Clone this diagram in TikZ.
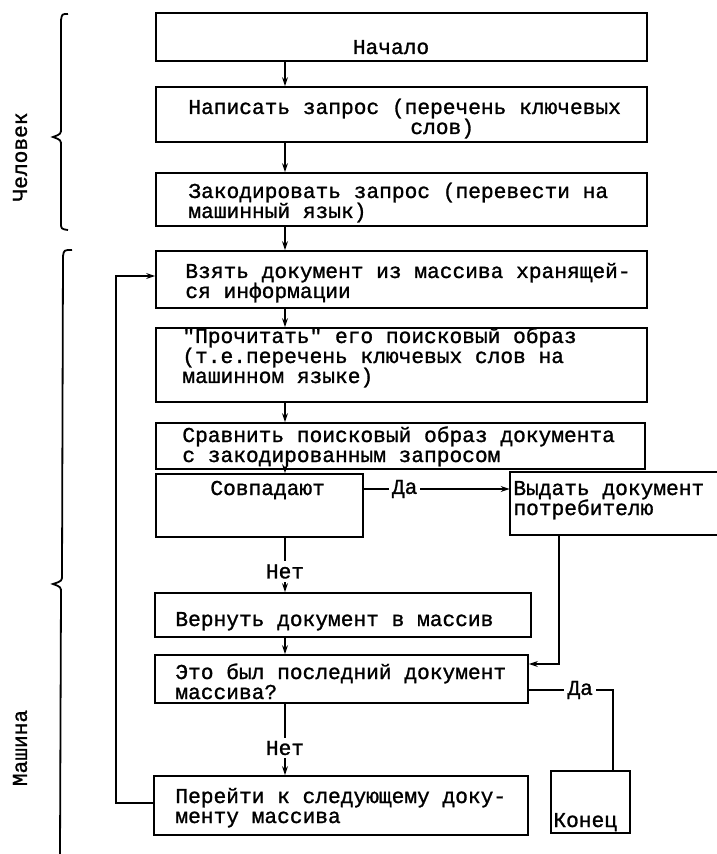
\documentclass[tikz,border=0pt]{standalone}
\usepackage{fontspec}
\newfontfamily\tw{Liberation Mono}[FakeBold=1.2]
\usetikzlibrary{arrows.meta,fit}
\begin{document}
\begin{tikzpicture}[x=0.5pt,y=-0.5pt,
  every node/.style={font=\tw\fontsize{10.6}{10}\selectfont},
  line/.style={line width=0.9pt, line join=miter},
  box/.style={draw, line width=0.9pt, inner sep=0pt},
  txt/.style={anchor=base west, inner sep=0pt},
  arr/.style={line, -{Stealth[length=4.5pt,width=3pt]}},
  lab/.style={fill=white, inner sep=1.5pt}]
\useasboundingbox (0,0) rectangle (716,854);
% boxes
\node[box, fit={(156,13)(647,61)}] (b1) {};
\node[box, fit={(156,87)(647,142)}] (b2) {};
\node[box, fit={(156,173)(647,226)}] (b3) {};
\node[box, fit={(156,251)(647,308)}] (b4) {};
\node[box, fit={(156,328)(647,402)}] (b5) {};
\node[box, fit={(156,423)(645,469)}] (b6) {};
\node[box, fit={(156,474)(363,537)}] (b7) {};
\node[box, fit={(155,593)(531,637)}] (b8) {};
\node[box, fit={(155,655)(528,703)}] (b9) {};
\node[box, fit={(154,776)(528,835)}] (b10) {};
\node[inner sep=0pt, fit={(510,472)(716,535)}] (bout) {};
\draw[line] (720,472) -- (510,472) -- (510,535) -- (720,535);
\node[box, fit={(551,771)(630,833)}] (bend) {};
% texts
\node[anchor=base, inner sep=0pt] (t1) at (391,54) {Начало};
\node[txt] (t2) at (188,114) {\vtop{\hbox{Написать запрос (перечень ключевых}\hbox{\hspace*{111pt}слов)}}};
\node[txt] (t3) at (188,198) {\vtop{\hbox{Закодировать запрос (перевести на}\hbox{машинный язык)}}};
\node[txt] (t4) at (185,278) {\vtop{\hbox{Взять документ из массива хранящей-}\hbox{ся информации}}};
\node[txt] (t5) at (182,343) {\vtop{\hbox{"Прочитать" его поисковый образ}\hbox{(т.е.перечень ключевых слов на}\hbox{машинном языке)}}};
\node[txt] (t6) at (182,442) {\vtop{\hbox{Сравнить поисковый образ документа}\hbox{с закодированным запросом}}};
\node[txt] (t7) at (210,495) {Совпадают};
\node[txt] (tout) at (513,495) {\vtop{\hbox{Выдать документ}\hbox{потребителю}}};
\node[txt] (t8) at (175,626) {Вернуть документ в массив};
\node[txt] (t9) at (175,679) {\vtop{\hbox{Это был последний документ}\hbox{массива?}}};
\node[txt] (t10) at (175,803) {\vtop{\hbox{Перейти к следующему доку-}\hbox{менту массива}}};
\node[txt] (tend) at (553,827) {Конец};
% helper coordinates
\coordinate (ax) at (285,0);
\coordinate (da1) at (0,489);
\coordinate (j1) at (559,664);
\coordinate (da2) at (613,690);
\coordinate (lp) at (116,803);
\coordinate (lq) at (116,276);
% connectors
\draw[arr] (b1.south -| ax) -- (b2.north -| ax);
\draw[arr] (b2.south -| ax) -- (b3.north -| ax);
\draw[arr] (b3.south -| ax) -- (b4.north -| ax);
\draw[arr] (b4.south -| ax) -- (b5.north -| ax);
\draw[arr] (b5.south -| ax) -- (b6.north -| ax);
\draw[arr] (b6.south -| ax) -- (b7.north -| ax);
\draw[arr] (b7.south -| ax) -- node[lab, pos=0.62] (n1) {Нет} (b8.north -| ax);
\draw[arr] (b8.south -| ax) -- (b9.north -| ax);
\draw[arr] (b9.south -| ax) -- node[lab, pos=0.62] (n2) {Нет} (b10.north -| ax);
\draw[arr] (b7.east |- da1) -- node[lab, pos=0.28] (y1) {Да} (bout.west |- da1);
\draw[arr] (bout.south -| j1) -- (j1) -- (b9.east |- j1);
\draw[line] (b9.east |- da2) -- node[lab, pos=0.61] (y2) {Да} (da2) -- (bend.north -| da2);
\draw[arr] (b10.west |- lp) -- (lp) -- (lq) -- (b4.west |- lq);
% braces
\draw[line] (68,14) .. controls (62,14) .. (61,20) -- (61,128) .. controls (61,134) .. (53,137) .. controls (61,140) .. (61,146) -- (61,222) .. controls (61,229) .. (68,230);
\draw[line] (72,250) .. controls (64,250) .. (63,256) -- (62,575) .. controls (62,581) .. (53,584) .. controls (61,587) .. (61,593) -- (60,854);
\node[rotate=90, inner sep=0pt] (lh) at (20,157) {Человек};
\node[rotate=90, inner sep=0pt] (lm) at (20,748) {Машина};
\end{tikzpicture}
\end{document}
